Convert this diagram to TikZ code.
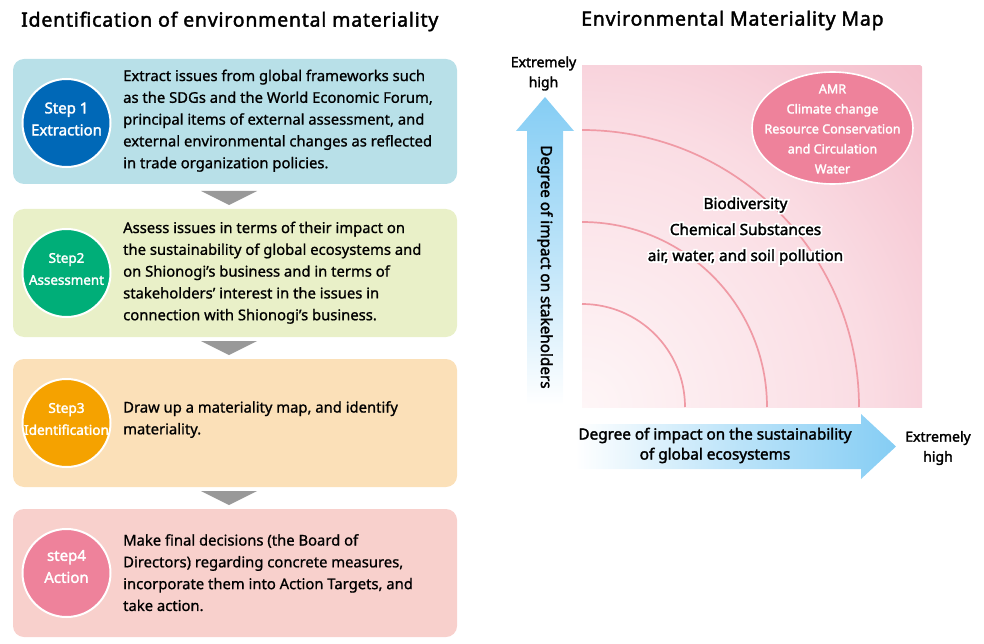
\documentclass[tikz,border=0pt]{standalone}
\usepackage{fontspec}
\usetikzlibrary{shapes.geometric}
\setmainfont[FakeBold=1]{Noto Sans}
\newfontfamily\boldish[FakeBold=2]{Noto Sans}
\newfontfamily\halofont[FakeBold=25]{Noto Sans}
\newfontfamily\titlefont[LetterSpace=4,FakeBold=2]{Noto Sans}
\definecolor{boxa}{HTML}{B8E0E8}
\definecolor{boxb}{HTML}{E9F0C8}
\definecolor{boxc}{HTML}{FBE0B8}
\definecolor{boxd}{HTML}{F8D0CC}
\definecolor{cira}{HTML}{0068B7}
\definecolor{cirb}{HTML}{00AE78}
\definecolor{circ}{HTML}{F5A200}
\definecolor{cird}{HTML}{EE829B}
\definecolor{ringc}{HTML}{F09AA5}
\definecolor{arrowblue}{HTML}{85CDF4}
\definecolor{mapa}{HTML}{FEF6F7}
\definecolor{mapb}{HTML}{FADCE3}
\definecolor{mapc}{HTML}{F6C6D2}
\definecolor{mapd}{HTML}{F2B0C0}
\pgfdeclareradialshading{mapshade}{\pgfpointorigin}{color(0bp)=(mapa);color(15bp)=(mapb);color(22bp)=(mapc);color(31bp)=(mapd);color(50bp)=(mapd)}
\tikzset{
 x=1pt,y=-1pt,
 stepbox/.style={rounded corners=11pt},
 stepcircle/.style={circle,draw=white,line width=2pt,minimum size=88pt,inner sep=0pt},
 steptext/.style={text=white,align=center,inner sep=0pt,font=\boldish\fontsize{15}{22}\selectfont},
 body/.style={anchor=north west,align=left,inner sep=0pt,font=\fontsize{14.8}{21.8}\selectfont},
 title/.style={anchor=west,inner sep=0pt,font=\titlefont\fontsize{19.5}{23}\selectfont},
 axislabel/.style={align=center,inner sep=0pt,font=\boldish\fontsize{15.3}{20}\selectfont},
 highlabel/.style={align=center,inner sep=0pt,font=\boldish\fontsize{14}{20}\selectfont},
 downtri/.style={fill=black!40},
 ring/.style={draw=ringc,line width=1.7pt},
 mapitem/.style={align=center,inner sep=0pt,font=\boldish\fontsize{15.3}{26}\selectfont},
}
\begin{document}
\begin{tikzpicture}
\useasboundingbox (0,0) rectangle (984,644);
\node[title] (t1) at (21,21.5) {Identification of environmental materiality};
\node[title] (t2) at (581,20.5) {Environmental Materiality Map};
% boxes
\fill[boxa,stepbox] (13,59) rectangle (457,184);
\fill[boxb,stepbox] (13,209) rectangle (457,337);
\fill[boxc,stepbox] (13,359) rectangle (457,487);
\fill[boxd,stepbox] (13,509) rectangle (457,637);
% triangles
\fill[downtri] (201,191) -- (257,191) -- (229,205) -- cycle;
\fill[downtri] (201,341) -- (257,341) -- (229,355) -- cycle;
\fill[downtri] (201,491) -- (257,491) -- (229,505) -- cycle;
% circles
\node[stepcircle,fill=cira] (c1) at (66.5,123) {};
\node[stepcircle,fill=cirb] (c2) at (66.5,273) {};
\node[stepcircle,fill=circ] (c3) at (66.5,423) {};
\node[stepcircle,fill=cird] (c4) at (66.5,573) {};
\node[steptext] (s1) at (66.5,119) {Step 1\\Extraction};
\node[steptext,font=\boldish\fontsize{13.4}{22}\selectfont] (s2) at (66.5,269) {Step2\\Assessment};
\node[steptext,font=\boldish\fontsize{13.6}{22}\selectfont] (s3) at (66.5,419) {Step3\\Identification};
\node[steptext] (s4) at (66.5,566.5) {step4\\Action};
% body text
\node[body] (b1) at (123,69.5) {Extract issues from global frameworks such\\as the SDGs and the World Economic Forum,\\principal items of external assessment, and\\external environmental changes as reflected\\in trade organization policies.};
\node[body] (b2) at (123,221.5) {Assess issues in terms of their impact on\\the sustainability of global ecosystems and\\on Shionogi’s business and in terms of\\stakeholders’ interest in the issues in\\connection with Shionogi’s business.};
\node[body] (b3) at (123,401) {Draw up a materiality map, and identify\\materiality.};
\node[body] (b4) at (123,534) {Make final decisions (the Board of\\Directors) regarding concrete measures,\\incorporate them into Action Targets, and\\take action.};
% map
\begin{scope}
\clip (582,66) rectangle (922,407);
\shade[shading=mapshade] (582,407) circle (481);
\end{scope}
\draw[ring] (582,304) arc[start angle=-90,end angle=0,radius=103];
\draw[ring] (582,222) arc[start angle=-90,end angle=0,radius=185];
\draw[ring] (582,130) arc[start angle=-90,end angle=0,radius=277];
\node[draw=white,line width=1.6pt,fill=cird,ellipse,minimum width=161pt,minimum height=112pt,inner sep=0pt] (el) at (832.5,128) {};
\node[text=white,align=center,inner sep=0pt,font=\boldish\fontsize{12.6}{20}\selectfont] (ellt) at (832.5,129) {AMR\\Climate change\\Resource Conservation\\and Circulation\\Water};
\node[mapitem,text=white,font=\halofont\fontsize{15.3}{26}\selectfont] (haloa) at (745.5,231) {Biodiversity\\Chemical Substances\\air, water, and soil pollution};
\node[mapitem] (mid) at (745.5,231) {Biodiversity\\Chemical Substances\\air, water, and soil pollution};
% axis arrows
\shade[top color=arrowblue,bottom color=white,middle color=arrowblue!55] (527,405) -- (527,131) -- (516,131) -- (545,97) -- (574,131) -- (563,131) -- (563,405) -- cycle;
\shade[left color=white,right color=arrowblue,middle color=arrowblue!55] (575,424) -- (861,424) -- (861,414) -- (896,446.5) -- (861,479) -- (861,469) -- (575,469) -- cycle;
\node[axislabel,rotate=-90] (yl) at (545,267) {Degree of impact on stakeholders};
\node[axislabel] (xl) at (715,445.5) {Degree of impact on the sustainability\\of global ecosystems};
\node[highlabel] (yh) at (543.5,73.5) {Extremely\\high};
\node[highlabel] (xh) at (938,448) {Extremely\\high};
\end{tikzpicture}
\end{document}
